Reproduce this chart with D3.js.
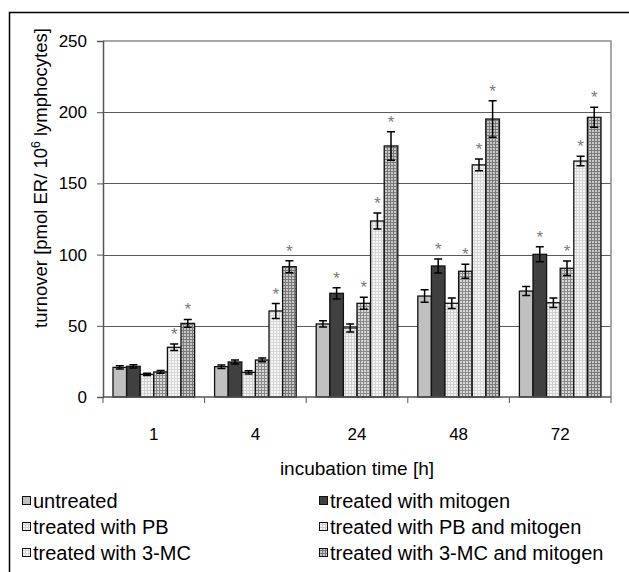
<!DOCTYPE html>
<html>
<head>
<meta charset="utf-8">
<script src="https://cdn.jsdelivr.net/npm/d3@7"></script>
<style>
  body { margin: 0; background: #fff; }
  svg { display: block; }
</style>
</head>
<body>
<div id="chart"></div>
<script>
// ── Data ──
const TIMES = ['1', '4', '24', '48', '72'];
const SERIES = [
    'untreated',
    'treated with mitogen',
    'treated with PB',
    'treated with PB and mitogen',
    'treated with 3-MC',
    'treated with 3-MC and mitogen',
];
// mean turnover per series, one value per incubation time
const MEANS = [
    [20.8, 21.3, 51.3, 70.9, 74.4],
    [21.5, 24.6, 72.8, 92.0, 100.2],
    [15.9, 17.3, 48.5, 65.8, 66.2],
    [17.6, 26.0, 65.8, 88.3, 90.4],
    [34.9, 60.4, 123.6, 163.0, 165.7],
    [51.7, 91.5, 176.3, 195.2, 196.4],
];
const ERRORS = [
    [1.2, 1.2, 2.2, 4.4, 3.2],
    [1.2, 1.4, 3.9, 4.9, 5.3],
    [0.8, 1.2, 2.8, 3.7, 3.3],
    [1.0, 1.3, 4.2, 4.9, 5.1],
    [2.3, 5.2, 5.6, 4.1, 3.3],
    [2.8, 4.2, 10.0, 12.8, 7.0],
];
// 1 = marked with an asterisk
const SIGNIFICANT = [
    [0, 0, 0, 0, 0],
    [0, 0, 1, 1, 1],
    [0, 0, 0, 0, 0],
    [0, 0, 1, 1, 1],
    [1, 1, 1, 1, 1],
    [1, 1, 1, 1, 1],
];
const Y_TICKS = [0, 50, 100, 150, 200, 250];

// ── Layout ──
const W = 629, H = 572;
const plot = { left: 103, right: 611, top: 41, bottom: 397 };
const FONT = "'Liberation Sans', Arial, sans-serif";

const svg = d3.select('#chart').append('svg')
    .attr('width', W).attr('height', H);

// Patterns for the hatched bars
const defs = svg.append('defs');
function gridPattern(id, bg, line, step) {
    const p = defs.append('pattern')
        .attr('id', id).attr('patternUnits', 'userSpaceOnUse')
        .attr('width', step).attr('height', step);
    p.append('rect').attr('width', step).attr('height', step).attr('fill', bg);
    p.append('path').attr('d', `M0,0.5H${step}M0.5,0V${step}`)
        .attr('stroke', line).attr('stroke-width', 1);
}
gridPattern('pb', '#f4f4f4', '#cfcfcf', 3);
gridPattern('pbm', '#d8d8d8', '#8a8a8a', 3);
gridPattern('mc', '#f6f6f6', '#d6d6d6', 3);
gridPattern('mcm', '#c8c8c8', '#7a7a7a', 3);

const FILLS = ['#c0c0c0', '#404040', 'url(#pb)', 'url(#pbm)', 'url(#mc)', 'url(#mcm)'];
const LEGEND_FILLS = ['#c0c0c0', '#404040', 'url(#pb)', 'url(#pb)', 'url(#mc)', 'url(#mcm)'];

// Outer frame (left and top edges visible)
svg.append('path')
    .attr('d', `M9.5,${H}V12.5H${W}`)
    .attr('fill', 'none').attr('stroke', '#000').attr('stroke-width', 1.5);

// Scales
const x0 = d3.scaleBand().domain(TIMES).range([plot.left, plot.right]).paddingInner(0).paddingOuter(0);
const x1 = d3.scaleBand().domain(d3.range(SERIES.length))
    .range([0, x0.bandwidth()]).paddingOuter(0.735).paddingInner(0);
const y = d3.scaleLinear().domain([0, 250]).range([plot.bottom, plot.top]);

// Gridlines
svg.append('g').selectAll('line')
    .data(Y_TICKS.filter(d => d > 0 && d < 250))
    .join('line')
    .attr('x1', plot.left).attr('x2', plot.right)
    .attr('y1', d => Math.round(y(d)) + 0.5).attr('y2', d => Math.round(y(d)) + 0.5)
    .attr('stroke', '#5a5a5a').attr('stroke-width', 1.2);

// Plot border top / right
svg.append('path')
    .attr('d', `M${plot.left},${y(250)}H${plot.right}V${plot.bottom}`)
    .attr('fill', 'none').attr('stroke', '#8c8c8c').attr('stroke-width', 1.5);

// Bars
const rows = [];
SERIES.forEach((s, si) => TIMES.forEach((t, ti) => rows.push({
    si, t, v: MEANS[si][ti], e: ERRORS[si][ti], sig: SIGNIFICANT[si][ti],
})));

const bx = d => x0(d.t) + x1(d.si);
const bw = x1.bandwidth();

svg.append('g').selectAll('rect')
    .data(rows).join('rect')
    .attr('x', bx).attr('width', bw)
    .attr('y', d => y(d.v)).attr('height', d => y(0) - y(d.v))
    .attr('fill', d => FILLS[d.si])
    .attr('stroke', '#111').attr('stroke-width', 1.3);

// Error bars
const eb = svg.append('g').attr('stroke', '#000').attr('stroke-width', 1.5).attr('fill', 'none');
eb.selectAll('path').data(rows).join('path')
    .attr('d', d => {
        const cx = bx(d) + bw / 2, t = y(d.v + d.e), b = y(d.v - d.e);
        return `M${cx},${t}V${b}M${cx - 4},${t}H${cx + 4}M${cx - 4},${b}H${cx + 4}`;
    });

// Asterisks
svg.append('g').selectAll('text')
    .data(rows.filter(d => d.sig)).join('text')
    .attr('x', d => bx(d) + bw / 2)
    .attr('y', d => y(d.v + d.e) - 4)
    .attr('text-anchor', 'middle')
    .attr('font-family', FONT).attr('font-size', '17px')
    .attr('fill', '#7a7a7a')
    .text('*');

// Y axis
const yAxis = svg.append('g')
    .attr('transform', `translate(${plot.left},0)`)
    .call(d3.axisLeft(y).tickValues(Y_TICKS).tickSize(6).tickPadding(10));
yAxis.select('.domain').attr('stroke', '#555').attr('stroke-width', 1.5);
yAxis.selectAll('.tick line').attr('stroke', '#555');
yAxis.selectAll('text').attr('font-family', FONT).attr('font-size', '17px').attr('fill', '#000');

// X axis: ticks between the groups, labels centred
const bounds = TIMES.map(t => x0(t)).concat([plot.right]);
const xg = svg.append('g');
xg.append('line')
    .attr('x1', plot.left).attr('x2', plot.right)
    .attr('y1', plot.bottom).attr('y2', plot.bottom)
    .attr('stroke', '#555').attr('stroke-width', 1.5);
xg.selectAll('.xt').data(bounds).join('line')
    .attr('class', 'xt')
    .attr('x1', d => d).attr('x2', d => d)
    .attr('y1', plot.bottom).attr('y2', plot.bottom + 6)
    .attr('stroke', '#555');
xg.selectAll('text').data(TIMES).join('text')
    .attr('x', d => x0(d) + x0.bandwidth() / 2)
    .attr('y', 440)
    .attr('text-anchor', 'middle')
    .attr('font-family', FONT).attr('font-size', '17px')
    .text(d => d);

// Axis titles
svg.append('text')
    .attr('x', (plot.left + plot.right) / 2).attr('y', 475)
    .attr('text-anchor', 'middle')
    .attr('font-family', FONT).attr('font-size', '19px')
    .text('incubation time [h]');

const yt = svg.append('text')
    .attr('transform', 'translate(47,178) rotate(-90)')
    .attr('text-anchor', 'middle')
    .attr('font-family', FONT).attr('font-size', '18.5px');
yt.append('tspan').text('turnover [pmol ER/ 10');
yt.append('tspan').attr('dy', -7).attr('font-size', '12px').text('6');
yt.append('tspan').attr('dy', 7).text(' lymphocytes]');

// Legend: two columns, three rows
const leg = svg.append('g');
SERIES.forEach((s, i) => {
    const col = i % 2, row = Math.floor(i / 2);
    const lx = col === 0 ? 22 : 319;
    const ly = 501 + row * 26;
    const g = leg.append('g').attr('transform', `translate(${lx},${ly})`);
    g.append('rect').attr('x', 0.5).attr('y', -4.5).attr('width', 8).attr('height', 8)
        .attr('fill', LEGEND_FILLS[i]).attr('stroke', '#111').attr('stroke-width', 1);
    g.append('text').attr('x', 11).attr('y', 0).attr('dy', '0.35em')
        .attr('font-family', FONT).attr('font-size', '20px')
        .text(s);
});
</script>
</body>
</html>
